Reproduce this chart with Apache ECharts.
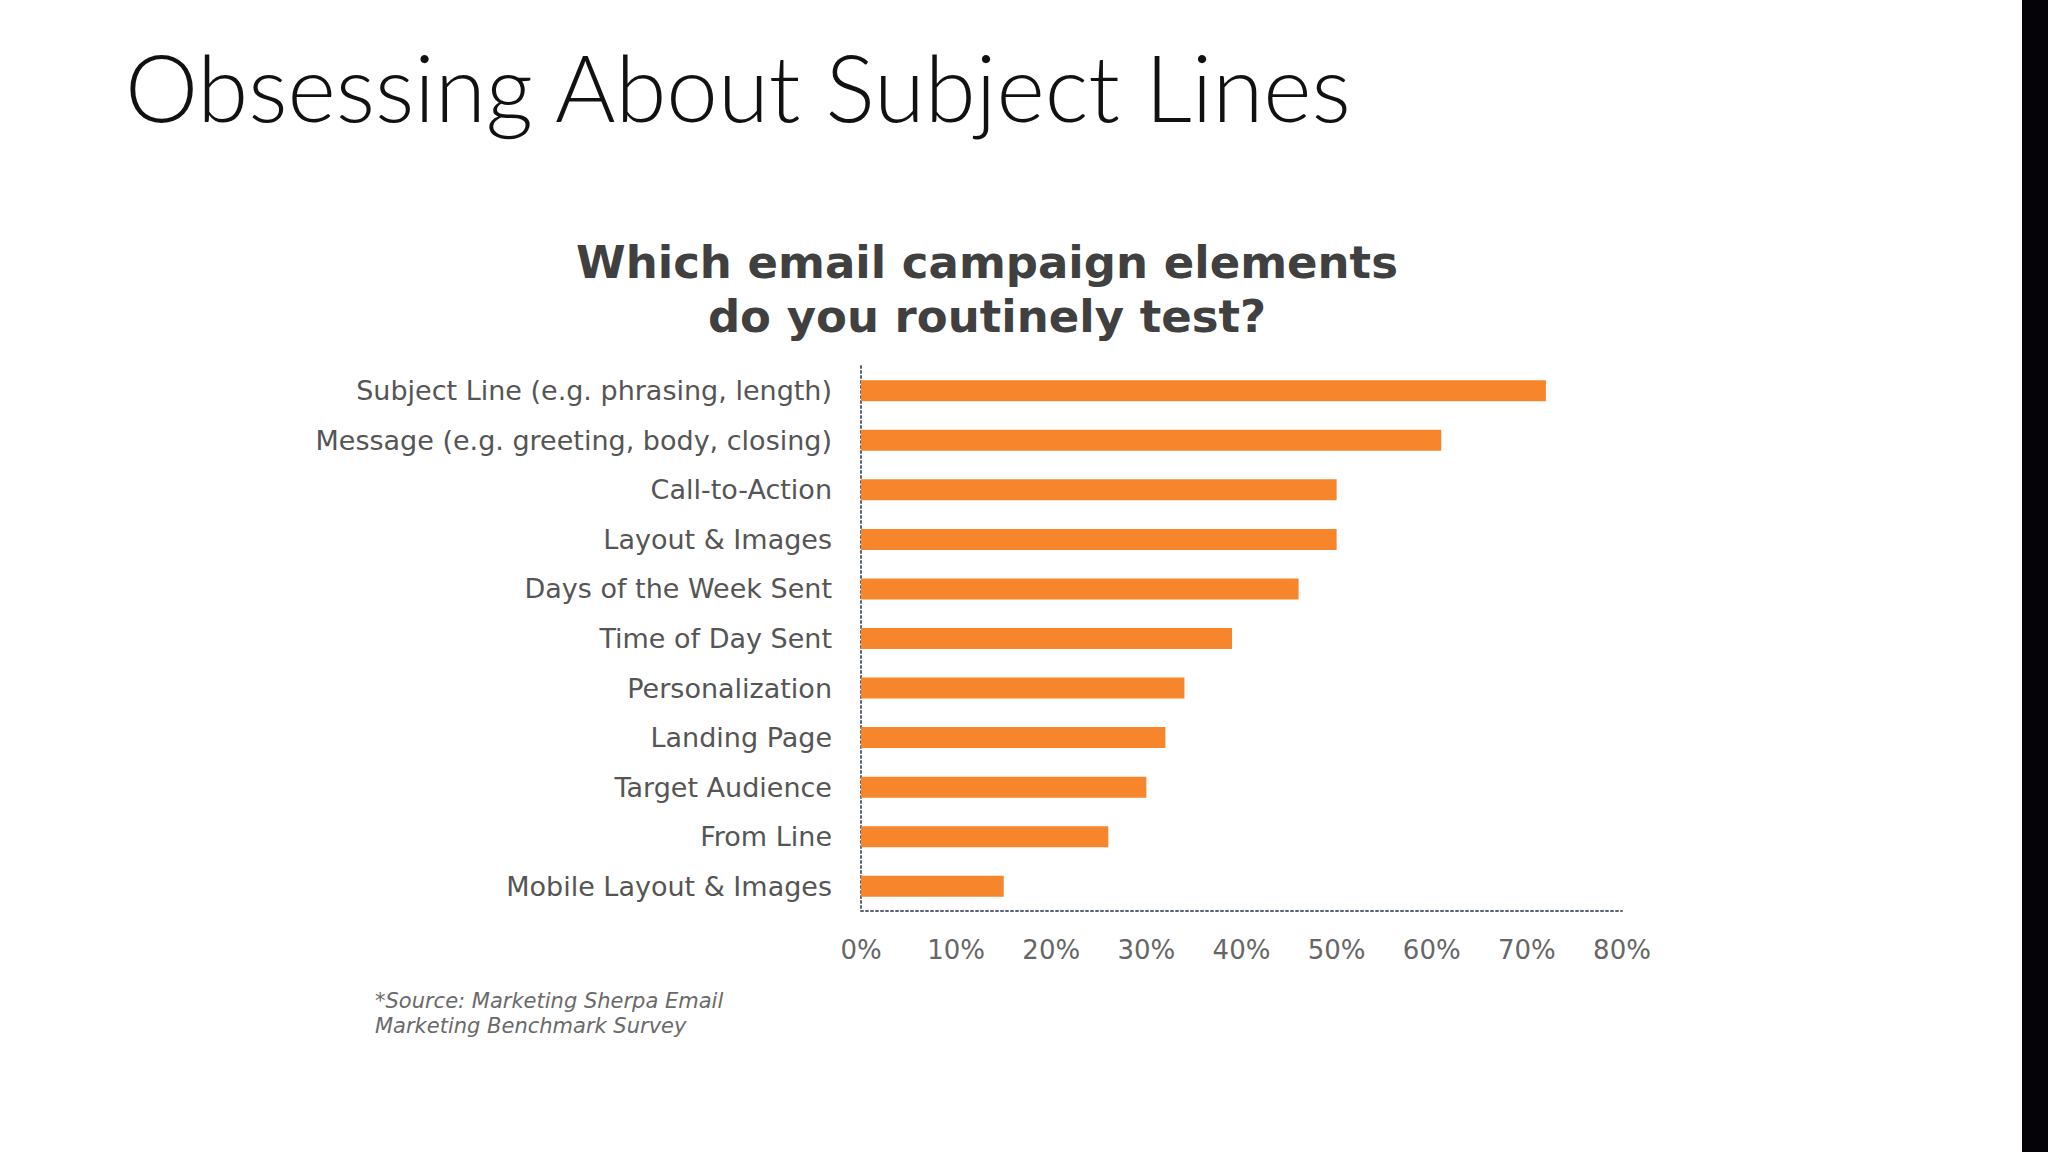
<!DOCTYPE html>
<html>
<head>
<meta charset="utf-8">
<title>Obsessing About Subject Lines</title>
<script src="https://cdn.jsdelivr.net/npm/echarts@6/dist/echarts.min.js"></script>
<style>
  html, body { margin: 0; padding: 0; background: #fff; }
  #chart { width: 2048px; height: 1152px; }
</style>
</head>
<body>
<div id="chart"></div>
<script>
var categories = [
    'Subject Line (e.g. phrasing, length)',
    'Message (e.g. greeting, body, closing)',
    'Call-to-Action',
    'Layout & Images',
    'Days of the Week Sent',
    'Time of Day Sent',
    'Personalization',
    'Landing Page',
    'Target Audience',
    'From Line',
    'Mobile Layout & Images'
];
var values = [72, 61, 50, 50, 46, 39, 34, 32, 30, 26, 15];
var tickMax = 80;
var tickStep = 10;

var myChart = echarts.init(document.getElementById('chart'), null, { renderer: 'svg' });
option = {
    backgroundColor: '#ffffff',
    animation: false,
    graphic: [
        {
            type: 'text',
            x: 125,
            y: 40,
            style: {
                text: 'Obsessing About Subject Lines',
                fill: '#111111',
                font: '300 92.5px Lato, "Open Sans", sans-serif'
            }
        },
        {
            type: 'text',
            x: 987,
            y: 235,
            style: {
                text: 'Which email campaign elements\ndo you routinely test?',
                textAlign: 'center',
                fill: '#404040',
                lineHeight: 54,
                font: 'bold 45px "DejaVu Sans", sans-serif'
            }
        },
        {
            type: 'text',
            x: 375,
            y: 988,
            style: {
                text: '*Source: Marketing Sherpa Email\nMarketing Benchmark Survey',
                fill: '#6a6a6a',
                lineHeight: 25,
                font: 'italic 21px "DejaVu Sans", sans-serif'
            }
        },
        {
            type: 'rect',
            shape: { x: 2022, y: 0, width: 26, height: 1152 },
            style: { fill: '#050308' }
        }
    ],
    grid: {
        left: 861,
        right: 426,
        top: 366,
        bottom: 241
    },
    xAxis: {
        type: 'value',
        min: 0,
        max: tickMax,
        interval: tickStep,
        axisLine: {
            show: true,
            lineStyle: { color: '#5a6470', width: 2, type: [2, 3] }
        },
        axisTick: { show: false },
        splitLine: { show: false },
        axisLabel: {
            formatter: '{value}%',
            color: '#666666',
            fontSize: 26,
            margin: 26,
            fontFamily: '"DejaVu Sans", sans-serif'
        }
    },
    yAxis: {
        type: 'category',
        inverse: true,
        data: categories,
        axisLine: {
            show: true,
            lineStyle: { color: '#5a6470', width: 2, type: [2, 3] }
        },
        axisTick: { show: false },
        axisLabel: {
            color: '#555555',
            fontSize: 27,
            margin: 29,
            fontFamily: '"DejaVu Sans", sans-serif'
        }
    },
    series: [{
        type: 'bar',
        data: values,
        barWidth: 21,
        itemStyle: { color: '#f7852b' },
        z: 1
    }]
};

myChart.setOption(option);
</script>
</body>
</html>
